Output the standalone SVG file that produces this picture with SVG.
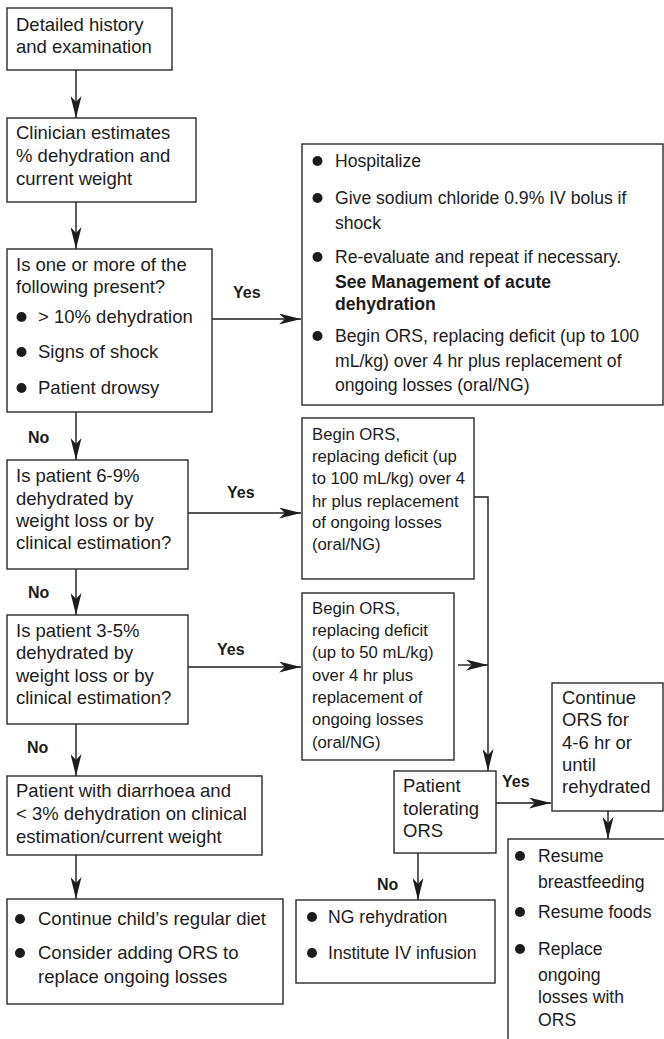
<svg xmlns="http://www.w3.org/2000/svg" width="664" height="1039" viewBox="0 0 664 1039">
  <style>
    .box { fill: #fff; stroke: #2a2a2a; stroke-width: 1.4; }
    .t { font-family: "Liberation Sans", Arial, sans-serif; font-size: 18.5px; fill: #1c1c1c; }
    .t2 { font-family: "Liberation Sans", Arial, sans-serif; font-size: 17.6px; fill: #1c1c1c; }
    .t3 { font-family: "Liberation Sans", Arial, sans-serif; font-size: 16.7px; fill: #1c1c1c; }
    .b { font-weight: bold; }
    .lbl { font-family: "Liberation Sans", Arial, sans-serif; font-size: 16px; font-weight: bold; fill: #1c1c1c; }
    .dot { fill: #1c1c1c; }
    .ln { fill: none; stroke: #1c1c1c; stroke-width: 1.4; }
    .arr { marker-end: url(#ah); }
  </style>
  <defs>
    <marker id="ah" markerUnits="userSpaceOnUse" markerWidth="22" markerHeight="11" refX="22" refY="5.5" orient="auto">
      <path d="M0,0 L22,5.5 L0,11 L6,5.5 Z" fill="#1c1c1c"/>
    </marker>
  </defs>
  <rect width="664" height="1039" fill="#fff"/>

  <g id="connectors">
    <line class="ln arr" x1="76" y1="70" x2="76" y2="118"/>
    <line class="ln arr" x1="76" y1="202" x2="76" y2="249"/>
    <line class="ln arr" x1="212" y1="319" x2="301" y2="319"/>
    <line class="ln arr" x1="76" y1="412" x2="76" y2="460"/>
    <line class="ln arr" x1="188" y1="513" x2="301" y2="513"/>
    <line class="ln arr" x1="76" y1="569" x2="76" y2="615"/>
    <line class="ln arr" x1="188" y1="667" x2="301" y2="667"/>
    <line class="ln arr" x1="76" y1="724" x2="76" y2="776"/>
    <line class="ln arr" x1="76" y1="855" x2="76" y2="899"/>
    <polyline class="ln arr" points="474,497 488,497 488,771"/>
    <line class="ln arr" x1="458" y1="665" x2="488" y2="665"/>
    <line class="ln arr" x1="496" y1="803" x2="551" y2="803"/>
    <line class="ln arr" x1="608" y1="811" x2="608" y2="839"/>
    <line class="ln arr" x1="418" y1="853" x2="418" y2="900"/>
    <text class="lbl" x="233" y="298">Yes</text>
    <text class="lbl" x="227" y="498">Yes</text>
    <text class="lbl" x="217" y="655">Yes</text>
    <text class="lbl" x="502" y="787">Yes</text>
    <text class="lbl" x="28" y="443">No</text>
    <text class="lbl" x="28" y="598">No</text>
    <text class="lbl" x="27" y="753">No</text>
    <text class="lbl" x="377" y="890">No</text>
  </g>

  <g id="history">
    <rect class="box" x="7" y="8" width="165" height="62"/>
    <text class="t" x="16" y="31">Detailed history</text>
    <text class="t" x="16" y="53">and examination</text>
  </g>

  <g id="estimate">
    <rect class="box" x="7" y="118" width="189" height="84"/>
    <text class="t" x="16" y="139">Clinician estimates</text>
    <text class="t" x="16" y="162">% dehydration and</text>
    <text class="t" x="16" y="185">current weight</text>
  </g>

  <g id="severe-check">
    <rect class="box" x="7" y="249" width="205" height="163"/>
    <text class="t" x="16" y="271">Is one or more of the</text>
    <text class="t" x="16" y="293">following present?</text>
    <circle class="dot" cx="21.5" cy="317" r="5"/>
    <text class="t" x="38" y="323">&gt; 10% dehydration</text>
    <circle class="dot" cx="21.5" cy="352" r="5"/>
    <text class="t" x="38" y="358">Signs of shock</text>
    <circle class="dot" cx="21.5" cy="388" r="5"/>
    <text class="t" x="38" y="394">Patient drowsy</text>
  </g>

  <g id="hospitalize">
    <rect class="box" x="302" y="144" width="361" height="261"/>
    <circle class="dot" cx="317.5" cy="161" r="5"/>
    <text class="t2" x="335" y="167">Hospitalize</text>
    <circle class="dot" cx="317.5" cy="198" r="5"/>
    <text class="t2" x="335" y="204">Give sodium chloride 0.9% IV bolus if</text>
    <text class="t2" x="335" y="229">shock</text>
    <circle class="dot" cx="317.5" cy="257" r="5"/>
    <text class="t2" x="335" y="263">Re-evaluate and repeat if necessary.</text>
    <text class="t2 b" x="335" y="288">See Management of acute</text>
    <text class="t2 b" x="335" y="310">dehydration</text>
    <circle class="dot" cx="317.5" cy="336" r="5"/>
    <text class="t2" x="335" y="342">Begin ORS, replacing deficit (up to 100</text>
    <text class="t2" x="335" y="367">mL/kg) over 4 hr plus replacement of</text>
    <text class="t2" x="335" y="391">ongoing losses (oral/NG)</text>
  </g>

  <g id="moderate-check">
    <rect class="box" x="7" y="460" width="181" height="109"/>
    <text class="t" x="16" y="482">Is patient 6-9%</text>
    <text class="t" x="16" y="505">dehydrated by</text>
    <text class="t" x="16" y="527">weight loss or by</text>
    <text class="t" x="16" y="549">clinical estimation?</text>
  </g>

  <g id="ors-100">
    <rect class="box" x="302" y="418" width="172" height="161"/>
    <text class="t3" x="312" y="440">Begin ORS,</text>
    <text class="t3" x="312" y="462">replacing deficit (up</text>
    <text class="t3" x="312" y="484">to 100 mL/kg) over 4</text>
    <text class="t3" x="312" y="507">hr plus replacement</text>
    <text class="t3" x="312" y="528">of ongoing losses</text>
    <text class="t3" x="312" y="550">(oral/NG)</text>
  </g>

  <g id="mild-check">
    <rect class="box" x="7" y="615" width="181" height="109"/>
    <text class="t" x="16" y="637">Is patient 3-5%</text>
    <text class="t" x="16" y="659">dehydrated by</text>
    <text class="t" x="16" y="682">weight loss or by</text>
    <text class="t" x="16" y="704">clinical estimation?</text>
  </g>

  <g id="ors-50">
    <rect class="box" x="302" y="593" width="152" height="167"/>
    <text class="t3" x="312" y="614">Begin ORS,</text>
    <text class="t3" x="312" y="636">replacing deficit</text>
    <text class="t3" x="312" y="658">(up to 50 mL/kg)</text>
    <text class="t3" x="312" y="681">over 4 hr plus</text>
    <text class="t3" x="312" y="703">replacement of</text>
    <text class="t3" x="312" y="725">ongoing losses</text>
    <text class="t3" x="312" y="748">(oral/NG)</text>
  </g>

  <g id="minimal">
    <rect class="box" x="7" y="776" width="255" height="79"/>
    <text class="t" x="16" y="797">Patient with diarrhoea and</text>
    <text class="t" x="16" y="820">&lt; 3% dehydration on clinical</text>
    <text class="t" x="16" y="843">estimation/current weight</text>
  </g>

  <g id="regular-diet">
    <rect class="box" x="7" y="899" width="276" height="105"/>
    <circle class="dot" cx="20" cy="919" r="5"/>
    <text class="t" x="38" y="925">Continue child’s regular diet</text>
    <circle class="dot" cx="20" cy="953" r="5"/>
    <text class="t" x="38" y="959">Consider adding ORS to</text>
    <text class="t" x="38" y="983">replace ongoing losses</text>
  </g>

  <g id="tolerating">
    <rect class="box" x="394" y="771" width="102" height="82"/>
    <text class="t" x="403" y="792">Patient</text>
    <text class="t" x="403" y="815">tolerating</text>
    <text class="t" x="403" y="837">ORS</text>
  </g>

  <g id="continue-ors">
    <rect class="box" x="552" y="683" width="111" height="128"/>
    <text class="t" x="562" y="704">Continue</text>
    <text class="t" x="562" y="726">ORS for</text>
    <text class="t" x="562" y="749">4-6 hr or</text>
    <text class="t" x="562" y="771">until</text>
    <text class="t" x="562" y="793">rehydrated</text>
  </g>

  <g id="resume">
    <rect class="box" x="508" y="839" width="170" height="215"/>
    <circle class="dot" cx="520" cy="856" r="5"/>
    <text class="t2" x="538" y="862">Resume</text>
    <text class="t2" x="538" y="888">breastfeeding</text>
    <circle class="dot" cx="520" cy="912" r="5"/>
    <text class="t2" x="538" y="918">Resume foods</text>
    <circle class="dot" cx="520" cy="949" r="5"/>
    <text class="t2" x="538" y="955">Replace</text>
    <text class="t2" x="538" y="981">ongoing</text>
    <text class="t2" x="538" y="1003">losses with</text>
    <text class="t2" x="538" y="1026">ORS</text>
  </g>

  <g id="ng-iv">
    <rect class="box" x="296" y="900" width="199" height="83"/>
    <circle class="dot" cx="312" cy="917" r="5"/>
    <text class="t2" x="328" y="923">NG rehydration</text>
    <circle class="dot" cx="312" cy="953" r="5"/>
    <text class="t2" x="328" y="959">Institute IV infusion</text>
  </g>
</svg>
